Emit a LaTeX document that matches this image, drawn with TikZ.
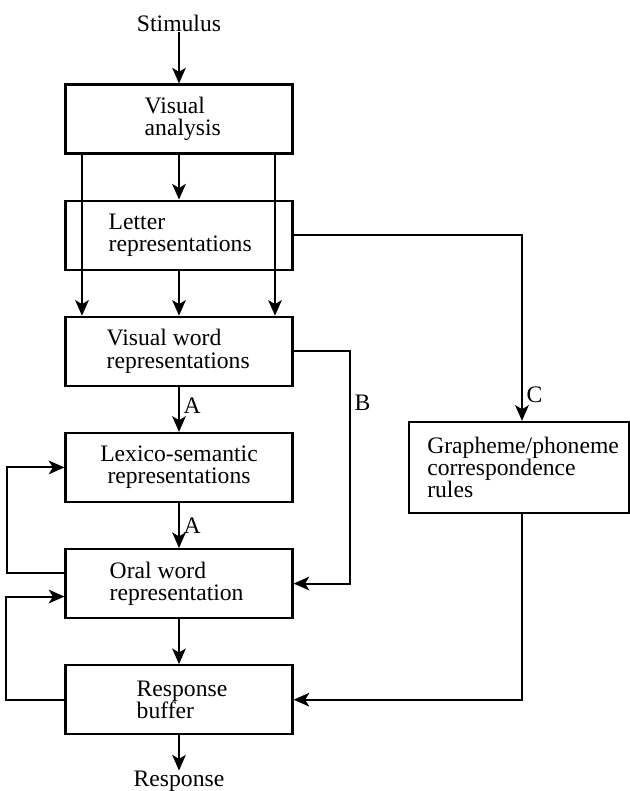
\documentclass[tikz,border=0pt]{standalone}
\usepackage{fontspec}
\setmainfont{Liberation Serif}
\usetikzlibrary{positioning,arrows.meta}

\begin{document}
\begin{tikzpicture}
	[x=0.025cm, y=-0.025cm,
	stage/.style={rectangle,draw,line width=1.5pt,inner sep=0pt,minimum width=5.675cm,minimum height=1.725cm},
	txt/.style={inner sep=0pt,align=left,font=\fontsize{16.8}{15.8}\selectfont},
	flow/.style={line width=1.5pt,-{Stealth[length=3.9mm,width=3.4mm,inset=1mm]}},
	tag/.style={font=\fontsize{16.8}{15.8}\selectfont,inner sep=2.5pt}]
	\useasboundingbox (0,0) rectangle (630,791);

	% boxes of the main column
	\node [stage] (va) at (179,119) {};
	\node [stage] (lr) [below=1.125cm of va] {};
	\node [stage] (vw) [below=1.125cm of lr] {};
	\node [stage] (ls) [below=1.125cm of vw] {};
	\node [stage] (ow) [below=1.125cm of ls] {};
	\node [stage] (rb) [below=1.125cm of ow] {};
	\node [stage,minimum width=5.5cm,minimum height=2.275cm] (gp) [right=2.86cm of ls] {};

	% texts
	\node [txt] (stim) at (179,23) {Stimulus};
	\node [txt] (resp) at (179,781) {Response};
	\node [txt] (vat) [right=2cm of va.west] {Visual\\analysis};
	\node [txt] (lrt) [right=1.1cm of lr.west] {Letter\\representations};
	\node [txt] (vwt) [right=1.05cm of vw.west] {Visual word\\representations};
	\node [txt,align=center] (lst) at (ls) {Lexico-semantic\\representations};
	\node [txt] (owt) [right=1.125cm of ow.west] {Oral word\\representation};
	\node [txt] (rbt) [right=1.8cm of rb.west] {Response\\buffer};
	\node [txt] (gpt) [right=0.475cm of gp.west] {Grapheme/phoneme\\correspondence\\rules};

	\coordinate (xl) at (82,0);
	\coordinate (xr) at (275,0);
	\coordinate (xb) at (350,0);
	\coordinate (xc) at (522,0);

	% connectors
	\draw [flow] (stim) -- (va);
	\draw [flow] (va) -- (lr);
	\draw [flow] (va.south -| xl) -- (vw.north -| xl);
	\draw [flow] (va.south -| xr) -- (vw.north -| xr);
	\draw [flow] (lr) -- (vw);
	\draw [flow] (vw) -- node [tag,right,pos=0.42] (la1) {A} (ls);
	\draw [flow] (ls) -- node [tag,right] (la2) {A} (ow);
	\draw [flow] (ow) -- (rb);
	\draw [flow] (rb) -- (resp);
	\draw [flow] (lr.east) -| node [tag,right,pos=0.93] (lc) {C} (xc |- gp.north);
	\draw [flow] (vw.east) -- (vw.east -| xb) -- node [tag,right,pos=0.22] (lb) {B} (xb |- ow.east) -- (ow.east);
	\draw [flow] (xc |- gp.south) |- (rb.east);
	\draw [flow] ([yshift=0.275cm]ow.west) -- ++(-57,0) |- (ls.west);
	\draw [flow] (rb.west) -- ++(-58,0) |- ([yshift=-0.325cm]ow.west);
\end{tikzpicture}
\end{document}
